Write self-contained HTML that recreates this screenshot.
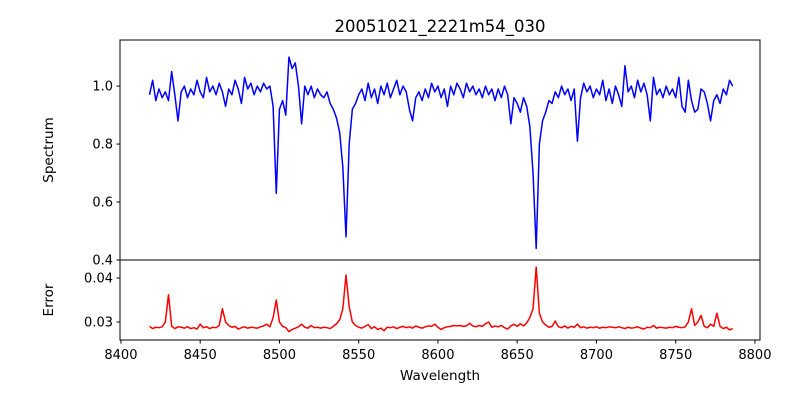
<!DOCTYPE html>
<html><head><meta charset="utf-8"><style>
html,body{margin:0;padding:0;background:#fff;}
svg{display:block;font-family:"DejaVu Sans","Liberation Sans",sans-serif;}
</style></head><body>
<svg id="chart" width="800" height="400" viewBox="0 0 800 400">
<rect width="800" height="400" fill="#fff"/>
<text x="440" y="32" font-size="16.5" text-anchor="middle">20051021_2221m54_030</text>
<g id="topAx"></g><g id="botAx"></g>
<text x="0" y="0" transform="translate(53,150) rotate(-90)" font-size="13.5" text-anchor="middle">Spectrum</text>
<text x="0" y="0" transform="translate(53,300) rotate(-90)" font-size="13.5" text-anchor="middle">Error</text>
<text x="440" y="380" font-size="13.5" text-anchor="middle">Wavelength</text>
</svg>
<script>
const startWave = 8418;
const waveStep = 2;
const spectrum = [0.97,1.02,0.95,0.99,0.96,0.98,0.95,1.05,0.97,0.88,0.98,1.00,0.96,0.99,0.97,1.02,0.98,0.96,1.03,0.98,1.00,0.97,1.01,0.98,0.93,0.99,0.97,1.02,0.99,0.94,1.03,0.99,1.01,0.97,1.00,0.98,1.01,0.99,1.00,0.93,0.63,0.92,0.95,0.90,1.10,1.06,1.08,1.00,0.87,1.00,0.97,1.00,0.96,0.99,0.97,0.96,0.98,0.94,0.92,0.89,0.84,0.72,0.48,0.80,0.92,0.94,0.97,0.99,0.95,1.01,0.96,0.99,0.94,1.00,0.97,1.01,0.96,0.99,1.02,0.97,1.00,0.98,0.92,0.88,0.96,0.98,0.95,0.99,0.96,1.01,0.98,1.00,0.96,0.99,0.93,1.00,0.97,1.01,0.99,0.96,1.01,0.98,1.00,0.97,0.99,0.96,1.00,0.97,0.99,0.95,0.99,0.96,1.00,0.97,0.87,0.96,0.94,0.91,0.96,0.93,0.86,0.70,0.44,0.80,0.88,0.91,0.95,0.94,0.98,0.96,1.00,0.97,0.99,0.95,0.99,0.81,0.96,1.01,0.98,1.00,0.96,0.99,0.97,1.02,0.95,0.99,0.94,1.00,0.97,0.93,1.07,0.98,1.00,0.96,1.02,0.98,1.01,0.97,0.88,1.03,0.97,0.99,0.96,1.00,0.97,0.99,0.96,1.03,0.93,0.91,1.02,0.95,0.91,0.92,0.99,0.98,0.94,0.88,0.95,0.97,0.94,0.99,0.97,1.02,1.00];
const errorVals = [.0290,.0285,.0288,.0287,.0289,.0300,.0362,.0290,.0285,.0289,.0288,.0286,.0289,.0285,.0287,.0284,.0295,.0287,.0289,.0285,.0288,.0287,.0292,.0330,.0300,.0292,.0288,.0290,.0284,.0287,.0289,.0286,.0288,.0287,.0286,.0289,.0291,.0295,.0289,.0310,.0350,.0300,.0290,.0287,.0278,.0283,.0286,.0289,.0295,.0288,.0286,.0292,.0287,.0288,.0286,.0288,.0287,.0285,.0290,.0296,.0305,.0330,.0407,.0335,.0300,.0292,.0288,.0286,.0290,.0294,.0285,.0289,.0283,.0286,.0280,.0288,.0287,.0289,.0285,.0288,.0290,.0287,.0289,.0286,.0291,.0288,.0286,.0289,.0291,.0290,.0295,.0288,.0283,.0287,.0289,.0290,.0292,.0291,.0292,.0290,.0291,.0297,.0291,.0289,.0292,.0290,.0296,.0300,.0288,.0291,.0289,.0292,.0287,.0284,.0291,.0295,.0290,.0296,.0291,.0298,.0310,.0330,.0425,.0320,.0300,.0293,.0288,.0290,.0302,.0289,.0287,.0291,.0286,.0290,.0288,.0295,.0287,.0289,.0286,.0288,.0287,.0289,.0286,.0288,.0287,.0289,.0288,.0287,.0289,.0287,.0285,.0288,.0286,.0287,.0289,.0286,.0284,.0288,.0287,.0292,.0286,.0288,.0287,.0286,.0288,.0287,.0290,.0288,.0287,.0289,.0300,.0330,.0292,.0300,.0315,.0290,.0287,.0295,.0290,.0320,.0290,.0285,.0288,.0282,.0285];
const xTicks = [8400,8450,8500,8550,8600,8650,8700,8750,8800];
const specTicks = [0.4,0.6,0.8,1.0];
const errTicks = [0.03,0.04];

const NS="http://www.w3.org/2000/svg";
const L=120,R=760;
const xMin=8399.4,xMax=8803.2;
const xS=v=>L+(v-xMin)/(xMax-xMin)*(R-L);
const yTop=v=>260-(v-0.4)/(1.159-0.4)*220;
const yBot=v=>340-(v-0.0259)/(0.0441-0.0259)*80;
function mk(tag,attrs,parent){const e=document.createElementNS(NS,tag);for(const k in attrs)e.setAttribute(k,attrs[k]);parent.appendChild(e);return e;}
const topG=document.getElementById('topAx'),botG=document.getElementById('botAx');

function series(vals,ys,color,parent,name){
  let d='';
  const n=vals.length;
  for(let i=0;i<n;i++){const w=startWave+i*waveStep;d+=(i?'L':'M')+xS(w).toFixed(2)+','+ys(vals[i]).toFixed(2);}
  const p=mk('path',{d:d,fill:'none',stroke:color,'stroke-width':1.5,'stroke-linejoin':'round'},parent);
  
  
}
series(spectrum,yTop,'#0000ff',topG,'spectrum-line');
series(errorVals,yBot,'#ff0000',botG,'error-line');

const f1=mk('rect',{x:L,y:40,width:R-L,height:220,fill:'none',stroke:'#000','stroke-width':1},topG);


const f2=mk('rect',{x:L,y:260,width:R-L,height:80,fill:'none',stroke:'#000','stroke-width':1},botG);



specTicks.forEach(t=>{
  const y=yTop(t);
  mk('line',{x1:L-3.5,x2:L,y1:y,y2:y,stroke:'#000'},topG);
  const tx=mk('text',{x:L-7,y:y+4.5,'font-size':13,'text-anchor':'end'},topG);
  tx.textContent=t.toFixed(1);
  
  
});
errTicks.forEach(t=>{
  const y=yBot(t);
  mk('line',{x1:L-3.5,x2:L,y1:y,y2:y,stroke:'#000'},botG);
  const tx=mk('text',{x:L-7,y:y+4.5,'font-size':13,'text-anchor':'end'},botG);
  tx.textContent=t.toFixed(2);
  
  
});
xTicks.forEach(t=>{
  const x=xS(t);
  mk('line',{x1:x,x2:x,y1:340,y2:343.5,stroke:'#000'},botG);
  const tx=mk('text',{x:x,y:359,'font-size':13,'text-anchor':'middle'},botG);
  tx.textContent=t;
  
  
});
</script>
</body></html>
